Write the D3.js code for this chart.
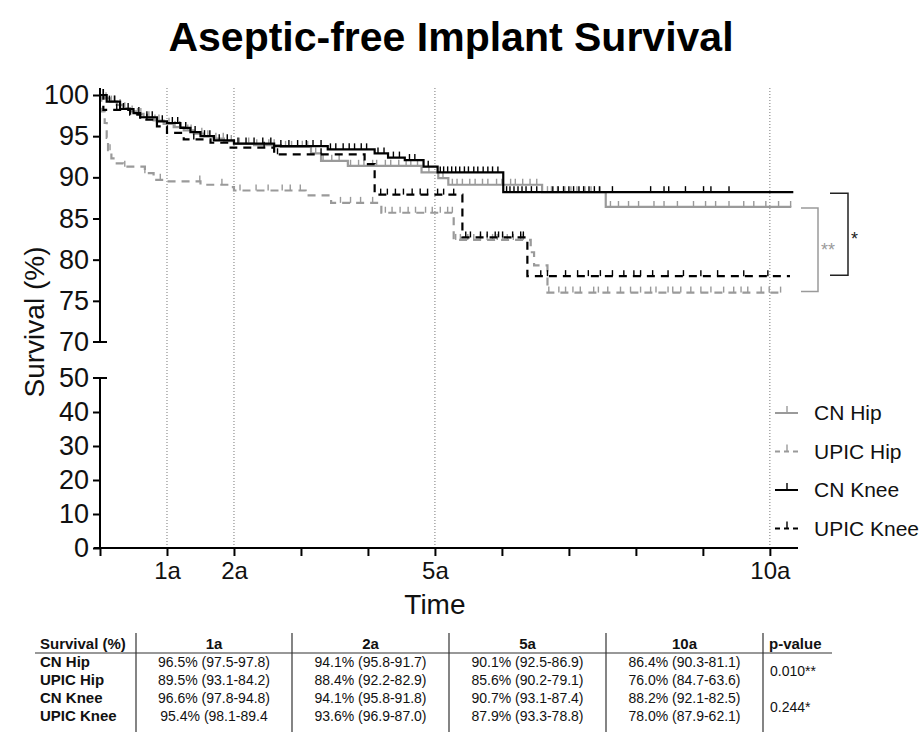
<!DOCTYPE html>
<html>
<head>
<meta charset="utf-8">
<script src="https://cdn.jsdelivr.net/npm/d3@7"></script>
<style>
  body { margin: 0; background: #fff; }
  svg { font-family: "Liberation Sans", Arial, Helvetica, sans-serif; }
</style>
</head>
<body>
<div id="chart"></div>
<script>
// Aseptic-free implant survival: Kaplan-Meier curves + summary table

// ---- data (years, survival %) ----
const seriesNames = ["CN Hip", "UPIC Hip", "CN Knee", "UPIC Knee"];

const cnHipSteps = [[0,100],[0.08,99.6],[0.15,99.2],[0.25,98.8],[0.35,98.4],[0.45,98.0],[0.55,97.7],[0.65,97.3],[0.8,96.9],[0.95,96.5],[1.1,96.1],[1.25,95.7],[1.4,95.3],[1.55,95.0],[1.7,94.7],[1.85,94.4],[2.0,94.1],[2.3,93.9],[2.7,93.7],[3.15,92.9],[3.3,92.0],[3.7,91.4],[4.8,90.6],[5.05,89.9],[5.2,89.1],[6.6,88.2],[7.55,86.4]];
const cnHipEnd = 10.32;
const cnHipCens = [0.04,0.09,0.17,0.21,0.3,0.37,0.48,0.56,0.61,0.73,0.82,0.88,1.03,1.12,1.19,1.31,1.36,1.52,1.61,1.73,1.84,1.96,2.08,2.22,2.34,2.52,2.6,2.77,2.86,3.02,3.1,3.22,3.33,3.46,3.57,3.74,3.86,3.94,4.07,4.13,4.26,4.34,4.46,4.57,4.64,4.74,4.91,5.12,5.26,5.33,5.41,5.52,5.6,5.71,5.79,5.92,6.0,6.13,6.2,6.31,6.42,6.52,6.68,6.74,6.83,6.94,7.03,7.12,7.24,7.33,7.45,7.62,7.74,7.89,8.04,8.27,8.42,8.62,8.86,9.04,9.19,9.39,9.61,9.76,9.94,10.13,10.31];

const upicHipSteps = [[0,100],[0.02,98.0],[0.07,96.6],[0.1,94.8],[0.12,93.3],[0.17,92.3],[0.22,91.7],[0.35,91.3],[0.67,90.5],[0.8,89.7],[1.0,89.5],[1.5,89.1],[1.9,88.8],[2.0,88.4],[3.07,87.8],[3.45,86.9],[4.2,85.7],[5.28,82.4],[6.43,80.9],[6.48,79.3],[6.68,76.0]];
const upicHipEnd = 10.2;
const upicHipCens = [0.15,0.37,0.67,0.9,1.49,1.82,2.09,2.33,2.51,2.72,2.84,2.99,3.59,3.74,3.89,4.07,4.26,4.36,4.48,4.6,4.71,4.86,4.96,5.08,5.19,5.26,5.31,5.38,5.49,5.58,5.68,5.78,5.86,5.93,6.01,6.08,6.17,6.28,6.32,6.7,6.85,6.95,7.06,7.17,7.37,7.44,7.58,7.77,7.92,8.07,8.22,8.3,8.48,8.55,8.67,8.82,8.97,9.12,9.31,9.46,9.57,9.67,9.87,9.99,10.16];

const cnKneeSteps = [[0,100],[0.1,99.2],[0.3,98.3],[0.5,97.8],[0.6,97.3],[0.85,96.8],[1.0,96.6],[1.2,96.0],[1.35,95.5],[1.5,95.0],[1.7,94.5],[2.0,94.1],[2.6,93.8],[3.4,93.4],[4.1,92.9],[4.3,92.4],[4.55,92.1],[4.83,91.3],[5.04,90.6],[6.02,88.2]];
const cnKneeEnd = 10.35;
const cnKneeCens = [0.05,0.14,0.22,0.35,0.42,0.58,0.7,0.78,0.93,1.08,1.16,1.28,1.42,1.56,1.64,1.78,1.9,2.06,2.18,2.3,2.43,2.55,2.7,2.82,2.95,3.08,3.18,3.3,3.44,3.52,3.63,3.72,3.8,3.9,3.98,4.15,4.24,4.38,4.47,4.62,4.7,4.9,5.08,5.13,5.19,5.25,5.31,5.37,5.44,5.5,5.58,5.64,5.72,5.79,5.86,5.94,6.07,6.12,6.18,6.24,6.3,6.36,6.44,6.52,6.76,6.84,6.92,7.0,7.07,7.15,7.22,7.3,7.38,7.46,7.65,8.22,8.42,8.49,8.74,9.01,9.12,9.39];

const upicKneeSteps = [[0,100],[0.05,98.2],[0.45,97.6],[0.6,97.0],[0.85,96.2],[1.0,95.4],[1.25,94.6],[1.65,94.2],[1.95,93.6],[2.6,92.8],[3.95,91.6],[4.1,87.9],[5.41,82.7],[6.38,78.0]];
const upicKneeEnd = 10.3;
const upicKneeCens = [0.25,0.7,1.4,2.45,2.65,3.3,4.19,4.29,4.41,4.53,4.66,4.78,4.89,5.04,5.13,5.28,5.46,5.53,5.68,5.78,5.9,5.95,6.01,6.16,6.28,6.32,6.58,6.68,6.95,7.13,7.29,7.47,7.65,7.82,7.97,8.07,8.25,8.48,8.71,8.97,9.22,9.61,9.97];

const xTickLabels = { 1: "1a", 2: "2a", 5: "5a", 10: "10a" };
const refYears = [1, 2, 5, 10];
const yTopTicks = [75, 80, 85, 90, 95, 100];
const yBotTicks = [0, 10, 20, 30, 40];

const tableHeader = ["Survival (%)", "1a", "2a", "5a", "10a", "p-value"];
const tableRows = [
  ["CN Hip", "96.5% (97.5-97.8)", "94.1% (95.8-91.7)", "90.1% (92.5-86.9)", "86.4% (90.3-81.1)"],
  ["UPIC Hip", "89.5% (93.1-84.2)", "88.4% (92.2-82.9)", "85.6% (90.2-79.1)", "76.0% (84.7-63.6)"],
  ["CN Knee", "96.6% (97.8-94.8)", "94.1% (95.8-91.8)", "90.7% (93.1-87.4)", "88.2% (92.1-82.5)"],
  ["UPIC Knee", "95.4% (98.1-89.4", "93.6% (96.9-87.0)", "87.9% (93.3-78.8)", "78.0% (87.9-62.1)"]
];
const pValues = ["0.010**", "0.244*"];

// ---- setup ----
const W = 922, H = 732;
const GRAY = "#9a9a9a";
const svg = d3.select("#chart").append("svg").attr("width", W).attr("height", H);

const x = d3.scaleLinear().domain([0, 10.42]).range([100, 798]);
const yTop = d3.scaleLinear().domain([70, 100]).range([342, 95]);
const yBot = d3.scaleLinear().domain([0, 50]).range([548, 378]);

const series = [
  { name: "CN Hip", steps: cnHipSteps, end: cnHipEnd, cens: cnHipCens, color: GRAY, dash: null },
  { name: "UPIC Hip", steps: upicHipSteps, end: upicHipEnd, cens: upicHipCens, color: GRAY, dash: "8,6" },
  { name: "CN Knee", steps: cnKneeSteps, end: cnKneeEnd, cens: cnKneeCens, color: "#000", dash: null },
  { name: "UPIC Knee", steps: upicKneeSteps, end: upicKneeEnd, cens: upicKneeCens, color: "#000", dash: "8,6" }
];

// title
svg.append("text").attr("x", 451).attr("y", 51).attr("text-anchor", "middle")
  .attr("font-size", 41).attr("font-weight", "bold").text("Aseptic-free Implant Survival");

// reference dotted lines
svg.append("g").selectAll("line").data(refYears).enter().append("line")
  .attr("x1", d => x(d)).attr("x2", d => x(d)).attr("y1", 88).attr("y2", 548)
  .attr("stroke", "#777").attr("stroke-width", 1).attr("stroke-dasharray", "1,2");

// curves
const stepLine = d3.line().x(d => x(d[0])).y(d => yTop(d[1])).curve(d3.curveStepAfter);
function survAt(steps, t) {
  let v = steps[0][1];
  steps.forEach(s => { if (s[0] <= t) v = s[1]; });
  return v;
}
const curves = svg.append("g");
series.forEach(s => {
  const pts = s.steps.concat([[s.end, s.steps[s.steps.length - 1][1]]]);
  curves.append("path").attr("d", stepLine(pts)).attr("fill", "none")
    .attr("stroke", s.color).attr("stroke-width", 2.2)
    .attr("stroke-dasharray", s.dash);
  curves.append("g").selectAll("line").data(s.cens).enter().append("line")
    .attr("x1", d => x(d)).attr("x2", d => x(d))
    .attr("y1", d => yTop(survAt(s.steps, d))).attr("y2", d => yTop(survAt(s.steps, d)) - 6)
    .attr("stroke", s.color).attr("stroke-width", 1.4);
});

// y axis (broken)
const axTop = svg.append("g").attr("transform", "translate(100,0)")
  .call(d3.axisLeft(yTop).tickValues(yTopTicks).tickSize(7).tickPadding(4));
const axBot = svg.append("g").attr("transform", "translate(100,0)")
  .call(d3.axisLeft(yBot).tickValues(yBotTicks).tickSize(7).tickPadding(4));
[axTop, axBot].forEach(a => {
  a.select(".domain").remove();
  a.selectAll("line").attr("stroke", "#000").attr("stroke-width", 2);
  a.selectAll("text").attr("font-size", 27).attr("fill", "#111").attr("font-family", "Liberation Sans, Arial, sans-serif");
});
svg.append("line").attr("x1", 100).attr("x2", 100).attr("y1", 88).attr("y2", yTop(70)).attr("stroke", "#000").attr("stroke-width", 2);
svg.append("line").attr("x1", 100).attr("x2", 100).attr("y1", yBot(50)).attr("y2", yBot(0)).attr("stroke", "#000").attr("stroke-width", 2);
[[yTop(70), "70"], [yBot(50), "50"]].forEach(([yy, lab]) => {
  svg.append("line").attr("x1", 93).attr("x2", 107).attr("y1", yy).attr("y2", yy).attr("stroke", "#000").attr("stroke-width", 2);
  svg.append("text").attr("x", 89).attr("y", yy).attr("dy", "0.32em").attr("text-anchor", "end")
    .attr("font-size", 27).attr("fill", "#111").text(lab);
});

// x axis
const axX = svg.append("g").attr("transform", "translate(0,548)")
  .call(d3.axisBottom(x).tickValues(d3.range(0, 11)).tickSize(8).tickPadding(6)
    .tickFormat(d => xTickLabels[d] || ""));
axX.select(".domain").attr("d", `M94,0H798`).attr("stroke", "#000").attr("stroke-width", 2);
axX.selectAll("line").attr("stroke", "#000").attr("stroke-width", 2);
axX.selectAll("text").attr("font-size", 24).attr("fill", "#111").attr("font-family", "Liberation Sans, Arial, sans-serif");

svg.append("text").attr("x", x(5)).attr("y", 614).attr("text-anchor", "middle")
  .attr("font-size", 28).attr("fill", "#111").text("Time");
svg.append("text").attr("transform", "translate(44,322) rotate(-90)").attr("text-anchor", "middle")
  .attr("font-size", 28).attr("fill", "#111").text("Survival (%)");

// significance brackets
function bracket(xl, xr, y1, y2, color, label, lx, ly) {
  svg.append("path").attr("d", `M${xl},${y1}H${xr}V${y2}H${xl}`).attr("fill", "none")
    .attr("stroke", color).attr("stroke-width", 1.5);
  svg.append("text").attr("x", lx).attr("y", ly).attr("font-size", 18).attr("fill", color).text(label);
}
bracket(801, 818, yTop(86.4) + 1, yTop(76.0) - 1, GRAY, "**", 821, 256);
bracket(830, 848, yTop(88.2) + 1, yTop(78.0) - 1, "#222", "*", 851, 245);

// legend
const legend = svg.append("g");
series.forEach((s, i) => {
  const ly = 413 + i * 38.5;
  legend.append("line").attr("x1", 775).attr("x2", 798).attr("y1", ly).attr("y2", ly)
    .attr("stroke", s.color).attr("stroke-width", 2).attr("stroke-dasharray", s.dash ? "5,4" : null);
  legend.append("line").attr("x1", 787).attr("x2", 787).attr("y1", ly).attr("y2", ly - 7)
    .attr("stroke", s.color).attr("stroke-width", 1.4);
  legend.append("text").attr("x", 814).attr("y", ly).attr("dy", "0.35em")
    .attr("font-size", 21).attr("fill", "#111").text(s.name);
});

// table
const colEdges = [35, 136, 292, 449, 606, 763, 832];
const tbl = svg.append("g").attr("font-size", 14).attr("fill", "#111");
tbl.append("line").attr("x1", 35).attr("x2", 832).attr("y1", 653).attr("y2", 653).attr("stroke", "#333").attr("stroke-width", 1.2);
colEdges.slice(1, 6).forEach(cx => {
  tbl.append("line").attr("x1", cx).attr("x2", cx).attr("y1", 633).attr("y2", 732).attr("stroke", "#333").attr("stroke-width", 1.2);
});
tableHeader.forEach((h, i) => {
  const t = tbl.append("text").attr("y", 649).attr("font-weight", "bold").attr("font-size", 15).text(h);
  if (i === 0) t.attr("x", 40);
  else if (i === 5) t.attr("x", 769);
  else t.attr("x", (colEdges[i] + colEdges[i + 1]) / 2).attr("text-anchor", "middle");
});
tableRows.forEach((row, r) => {
  const ty = 667 + r * 18;
  row.forEach((cell, i) => {
    const t = tbl.append("text").attr("y", ty).text(cell);
    if (i === 0) t.attr("x", 40).attr("font-weight", "bold").attr("font-size", 15);
    else t.attr("x", (colEdges[i] + colEdges[i + 1]) / 2).attr("text-anchor", "middle").attr("font-size", 14);
  });
});
pValues.forEach((p, i) => {
  tbl.append("text").attr("x", 770).attr("y", 676 + i * 36).text(p);
});
</script>
</body>
</html>
